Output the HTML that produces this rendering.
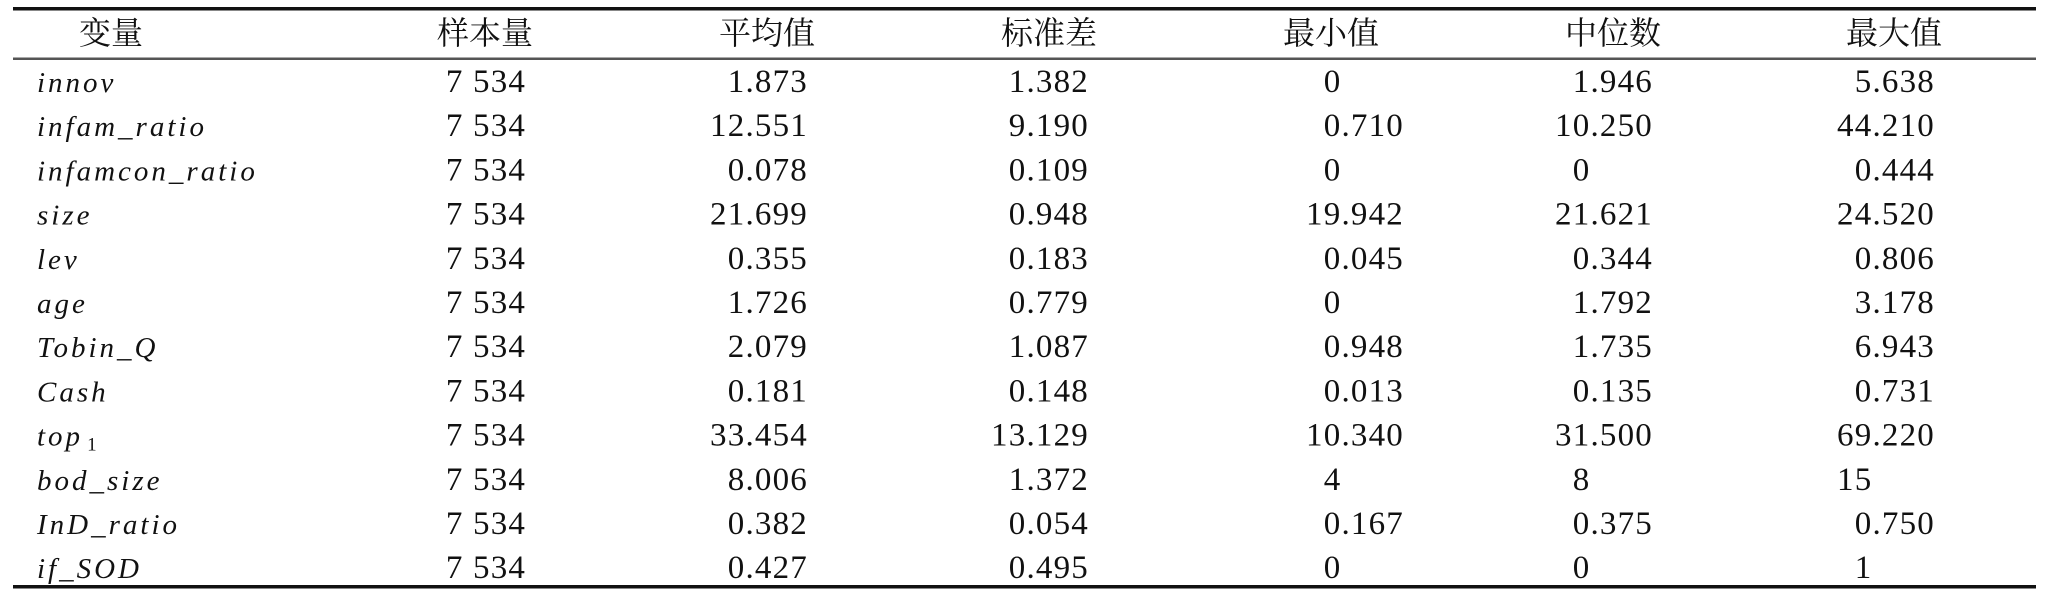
<!DOCTYPE html>
<html>
<head>
<meta charset="utf-8">
<style>
html,body{margin:0;padding:0;background:#fff;}
body{width:2048px;height:592px;overflow:hidden;}
svg{display:block;}
.h{font-family:"Liberation Serif","Noto Serif CJK SC","Noto Sans CJK SC",serif;font-size:32px;fill:#111;}
.l{font-family:"Liberation Serif",serif;font-style:italic;font-size:29px;letter-spacing:3px;fill:#111;}
.n{font-family:"Liberation Serif",serif;font-size:33px;letter-spacing:1.2px;fill:#111;}
.sub{font-style:normal;font-size:19px;letter-spacing:0;}
</style>
</head>
<body>
<svg width="2048" height="592" viewBox="0 0 2048 592" xmlns="http://www.w3.org/2000/svg">
<rect x="13" y="7" width="2023" height="3.5" fill="#111"/>
<rect x="13" y="57.5" width="2023" height="2.5" fill="#555"/>
<rect x="13" y="585" width="2023" height="3.5" fill="#111"/>

<g class="h" text-anchor="middle">
<text x="111" y="44">变量</text>
<text x="485" y="44">样本量</text>
<text x="767" y="44">平均值</text>
<text x="1049" y="44">标准差</text>
<text x="1331" y="44">最小值</text>
<text x="1613" y="44">中位数</text>
<text x="1894" y="44">最大值</text>
</g>

<g class="l">
<text x="37" y="92">innov</text>
<text x="37" y="136.2">infam_ratio</text>
<text x="37" y="180.4">infamcon_ratio</text>
<text x="37" y="224.6">size</text>
<text x="37" y="268.8">lev</text>
<text x="37" y="313">age</text>
<text x="37" y="357.2">Tobin_Q</text>
<text x="37" y="401.4">Cash</text>
<text x="37" y="445.6">top<tspan class="sub" dx="4" dy="5">1</tspan></text>
<text x="37" y="489.8">bod_size</text>
<text x="37" y="534">InD_ratio</text>
<text x="37" y="578.2">if_SOD</text>
</g>

<g class="n" text-anchor="middle">
<text x="486" y="92">7 534</text>
<text x="486" y="136.2">7 534</text>
<text x="486" y="180.4">7 534</text>
<text x="486" y="224.6">7 534</text>
<text x="486" y="268.8">7 534</text>
<text x="486" y="313">7 534</text>
<text x="486" y="357.2">7 534</text>
<text x="486" y="401.4">7 534</text>
<text x="486" y="445.6">7 534</text>
<text x="486" y="489.8">7 534</text>
<text x="486" y="534">7 534</text>
<text x="486" y="578.2">7 534</text>
</g>

<!-- 平均值 -->
<g class="n" text-anchor="end">
<text x="808" y="92">1.873</text>
<text x="808" y="136.2">12.551</text>
<text x="808" y="180.4">0.078</text>
<text x="808" y="224.6">21.699</text>
<text x="808" y="268.8">0.355</text>
<text x="808" y="313">1.726</text>
<text x="808" y="357.2">2.079</text>
<text x="808" y="401.4">0.181</text>
<text x="808" y="445.6">33.454</text>
<text x="808" y="489.8">8.006</text>
<text x="808" y="534">0.382</text>
<text x="808" y="578.2">0.427</text>
</g>

<!-- 标准差 -->
<g class="n" text-anchor="end">
<text x="1089" y="92">1.382</text>
<text x="1089" y="136.2">9.190</text>
<text x="1089" y="180.4">0.109</text>
<text x="1089" y="224.6">0.948</text>
<text x="1089" y="268.8">0.183</text>
<text x="1089" y="313">0.779</text>
<text x="1089" y="357.2">1.087</text>
<text x="1089" y="401.4">0.148</text>
<text x="1089" y="445.6">13.129</text>
<text x="1089" y="489.8">1.372</text>
<text x="1089" y="534">0.054</text>
<text x="1089" y="578.2">0.495</text>
</g>

<!-- 最小值 -->
<g class="n" text-anchor="end">
<text x="1404" y="92">0<tspan fill="none">.000</tspan></text>
<text x="1404" y="136.2">0.710</text>
<text x="1404" y="180.4">0<tspan fill="none">.000</tspan></text>
<text x="1404" y="224.6">19.942</text>
<text x="1404" y="268.8">0.045</text>
<text x="1404" y="313">0<tspan fill="none">.000</tspan></text>
<text x="1404" y="357.2">0.948</text>
<text x="1404" y="401.4">0.013</text>
<text x="1404" y="445.6">10.340</text>
<text x="1404" y="489.8">4<tspan fill="none">.000</tspan></text>
<text x="1404" y="534">0.167</text>
<text x="1404" y="578.2">0<tspan fill="none">.000</tspan></text>
</g>

<!-- 中位数 -->
<g class="n" text-anchor="end">
<text x="1653" y="92">1.946</text>
<text x="1653" y="136.2">10.250</text>
<text x="1653" y="180.4">0<tspan fill="none">.000</tspan></text>
<text x="1653" y="224.6">21.621</text>
<text x="1653" y="268.8">0.344</text>
<text x="1653" y="313">1.792</text>
<text x="1653" y="357.2">1.735</text>
<text x="1653" y="401.4">0.135</text>
<text x="1653" y="445.6">31.500</text>
<text x="1653" y="489.8">8<tspan fill="none">.000</tspan></text>
<text x="1653" y="534">0.375</text>
<text x="1653" y="578.2">0<tspan fill="none">.000</tspan></text>
</g>

<!-- 最大值 -->
<g class="n" text-anchor="end">
<text x="1935" y="92">5.638</text>
<text x="1935" y="136.2">44.210</text>
<text x="1935" y="180.4">0.444</text>
<text x="1935" y="224.6">24.520</text>
<text x="1935" y="268.8">0.806</text>
<text x="1935" y="313">3.178</text>
<text x="1935" y="357.2">6.943</text>
<text x="1935" y="401.4">0.731</text>
<text x="1935" y="445.6">69.220</text>
<text x="1935" y="489.8">15<tspan fill="none">.000</tspan></text>
<text x="1935" y="534">0.750</text>
<text x="1935" y="578.2">1<tspan fill="none">.000</tspan></text>
</g>
</svg>
</body>
</html>
